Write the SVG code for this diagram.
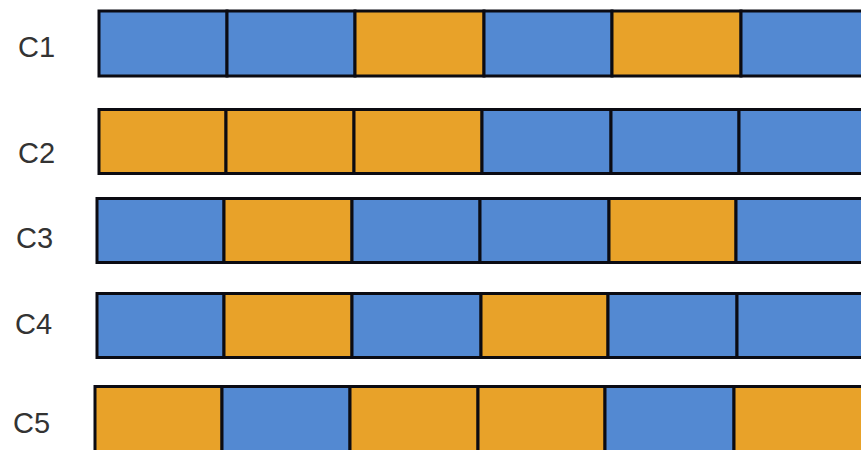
<svg xmlns="http://www.w3.org/2000/svg" width="861" height="450" viewBox="0 0 861 450">
<style>
.b{fill:#5389D2;stroke:#0b0b12;stroke-width:3}
.o{fill:#E8A229;stroke:#0b0b12;stroke-width:3}
.lbl{font-family:"Liberation Sans",Arial,sans-serif;font-size:29px;fill:#333}
</style>
<rect width="861" height="450" fill="#ffffff"/>
<g id="C1">
<text class="lbl" x="18" y="57">C1</text>
<rect class="b" x="99" y="11" width="128" height="65"/>
<rect class="b" x="227" y="11" width="128" height="65"/>
<rect class="o" x="355" y="11" width="129" height="65"/>
<rect class="b" x="484" y="11" width="128" height="65"/>
<rect class="o" x="612" y="11" width="129" height="65"/>
<rect class="b" x="741" y="11" width="129" height="65"/>
</g>
<g id="C2">
<text class="lbl" x="18" y="163">C2</text>
<rect class="o" x="99" y="109.5" width="127" height="64"/>
<rect class="o" x="226" y="109.5" width="128" height="64"/>
<rect class="o" x="354" y="109.5" width="128" height="64"/>
<rect class="b" x="482" y="109.5" width="129" height="64"/>
<rect class="b" x="611" y="109.5" width="128" height="64"/>
<rect class="b" x="739" y="109.5" width="131" height="64"/>
</g>
<g id="C3">
<text class="lbl" x="16" y="248">C3</text>
<rect class="b" x="97" y="198.5" width="127" height="64"/>
<rect class="o" x="224" y="198.5" width="128" height="64"/>
<rect class="b" x="352" y="198.5" width="128" height="64"/>
<rect class="b" x="480" y="198.5" width="129" height="64"/>
<rect class="o" x="609" y="198.5" width="127" height="64"/>
<rect class="b" x="736" y="198.5" width="134" height="64"/>
</g>
<g id="C4">
<text class="lbl" x="15" y="334">C4</text>
<rect class="b" x="97" y="293.5" width="127" height="64"/>
<rect class="o" x="224" y="293.5" width="128" height="64"/>
<rect class="b" x="352" y="293.5" width="129" height="64"/>
<rect class="o" x="481" y="293.5" width="127" height="64"/>
<rect class="b" x="608" y="293.5" width="129" height="64"/>
<rect class="b" x="737" y="293.5" width="133" height="64"/>
</g>
<g id="C5">
<text class="lbl" x="13" y="433">C5</text>
<rect class="o" x="95" y="386.5" width="127" height="66"/>
<rect class="b" x="222" y="386.5" width="128" height="66"/>
<rect class="o" x="350" y="386.5" width="128" height="66"/>
<rect class="o" x="478" y="386.5" width="127" height="66"/>
<rect class="b" x="605" y="386.5" width="129" height="66"/>
<rect class="o" x="734" y="386.5" width="136" height="66"/>
</g>
<g id="connectors"/>
</svg>
